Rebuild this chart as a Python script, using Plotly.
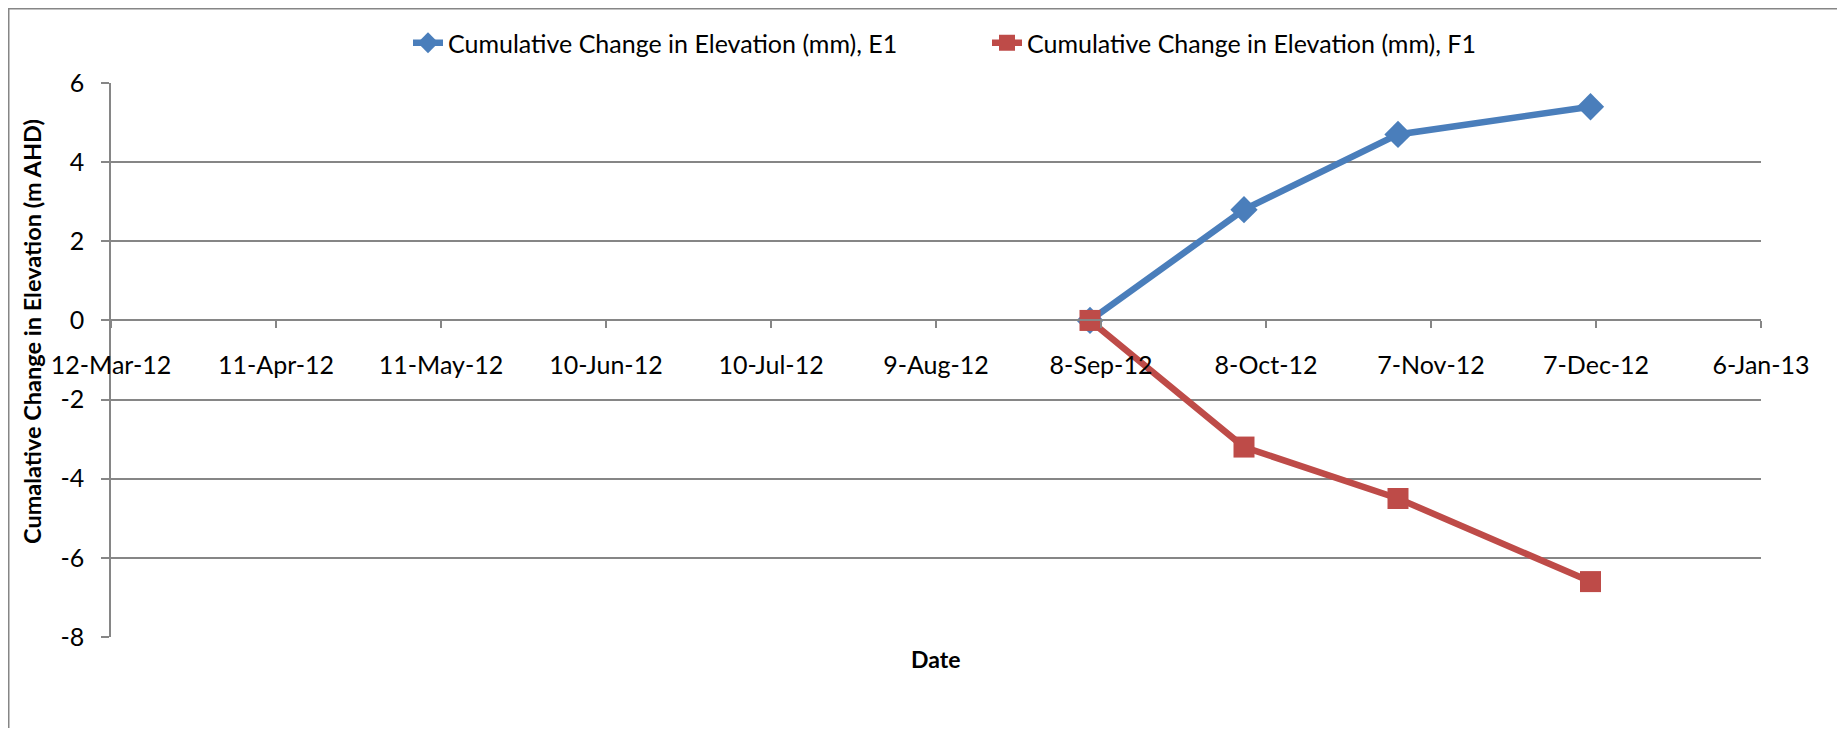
import plotly.graph_objects as go

# ---- data ----
dates = ["2012-09-06", "2012-10-04", "2012-11-01", "2012-12-06"]
e1_values = [0.0, 2.8, 4.7, 5.4]
f1_values = [0.0, -3.2, -4.5, -6.6]
e1_name = "Cumulative Change in Elevation (mm), E1"
f1_name = "Cumulative Change in Elevation (mm), F1"

x_tick_dates = ["2012-03-12", "2012-04-11", "2012-05-11", "2012-06-10", "2012-07-10",
                "2012-08-09", "2012-09-08", "2012-10-08", "2012-11-07", "2012-12-07",
                "2013-01-06"]
x_tick_labels = ["12-Mar-12", "11-Apr-12", "11-May-12", "10-Jun-12", "10-Jul-12",
                 "9-Aug-12", "8-Sep-12", "8-Oct-12", "7-Nov-12", "7-Dec-12", "6-Jan-13"]
y_tick_vals = [-8, -6, -4, -2, 0, 2, 4, 6]
y_tick_labels = ["-8", "-6", "-4", "-2", "0", "2", "4", "6"]

x_title = "Date"
y_title = "Cumalative Change in Elevation (m AHD)"

# ---- style ----
OFF = 8  # default page margin of the html body
W, H = 1845 - OFF, 736 - 2 * OFF
L, R, T, B = 111 - OFF, 1761 - OFF, 83 - OFF, 637 - OFF
pw, ph = R - L, B - T
FONT = "Lato"
GRID = "#868686"
BLUE = "#4A7EBB"
RED = "#BE4B48"

def px_x(p):  # p in screenshot pixels
    return (p - OFF - L) / pw

def px_y(p):
    return (B - (p - OFF)) / ph

fig = go.Figure()
fig.add_trace(go.Scatter(x=dates, y=e1_values, name=e1_name, mode="lines+markers",
                         line=dict(color=BLUE, width=6.5),
                         marker=dict(symbol="diamond", size=21, color=BLUE),
                         legend="legend"))
fig.add_trace(go.Scatter(x=dates, y=f1_values, name=f1_name, mode="lines+markers",
                         line=dict(color=RED, width=6.5),
                         marker=dict(symbol="square", size=21, color=RED),
                         legend="legend2"))

y0, y1 = y_tick_vals[0], y_tick_vals[-1]
zero_pos = (0 - y0) / (y1 - y0)

leg_common = dict(orientation="h", yanchor="middle", y=px_y(43), xanchor="left",
                  font=dict(size=25, family=FONT, color="black"),
                  bgcolor="rgba(0,0,0,0)", borderwidth=0)

fig.update_layout(
    width=W, height=H,
    margin=dict(l=L, r=W - R, t=T, b=H - B, pad=0),
    paper_bgcolor="white", plot_bgcolor="white",
    font=dict(family=FONT, size=25, color="black"),
    showlegend=True,
    legend=dict(x=px_x(408), **leg_common),
    legend2=dict(x=px_x(987), **leg_common),
    xaxis=dict(type="date", range=[x_tick_dates[0], x_tick_dates[-1]],
               tickmode="array", tickvals=x_tick_dates, ticktext=x_tick_labels,
               showgrid=False, zeroline=False, showline=True, linecolor=GRID, linewidth=1.5,
               ticks="outside", ticklen=7, tickwidth=1.5, tickcolor=GRID,
               anchor="free", position=zero_pos, ticklabelstandoff=16,
               tickfont=dict(size=25, family=FONT, color="black")),
    yaxis=dict(range=[y0, y1], tickmode="array", tickvals=y_tick_vals, ticktext=y_tick_labels,
               showgrid=True, gridcolor=GRID, gridwidth=1.5, zeroline=False,
               showline=True, linecolor=GRID, linewidth=1.5,
               ticks="outside", ticklen=8, tickwidth=1.5, tickcolor=GRID,
               ticklabelstandoff=12,
               tickfont=dict(size=25, family=FONT, color="black")),
    shapes=[dict(type="rect", xref="paper", yref="paper",
                 x0=px_x(8.75), x1=px_x(1844), y0=px_y(800), y1=px_y(8.75),
                 line=dict(color=GRID, width=1.5), fillcolor="rgba(0,0,0,0)", layer="below")],
    annotations=[
        dict(text=f"<b>{x_title}</b>", xref="paper", yref="paper", x=px_x(935), y=px_y(659),
             xanchor="center", yanchor="middle", showarrow=False,
             font=dict(size=23, family=FONT, color="black")),
        dict(text=f"<b>{y_title}</b>", xref="paper", yref="paper", x=px_x(32), y=px_y(332),
             xanchor="center", yanchor="middle", showarrow=False, textangle=-90,
             font=dict(size=23.5, family=FONT, color="black")),
    ],
)

fig.write_html("out.html")
